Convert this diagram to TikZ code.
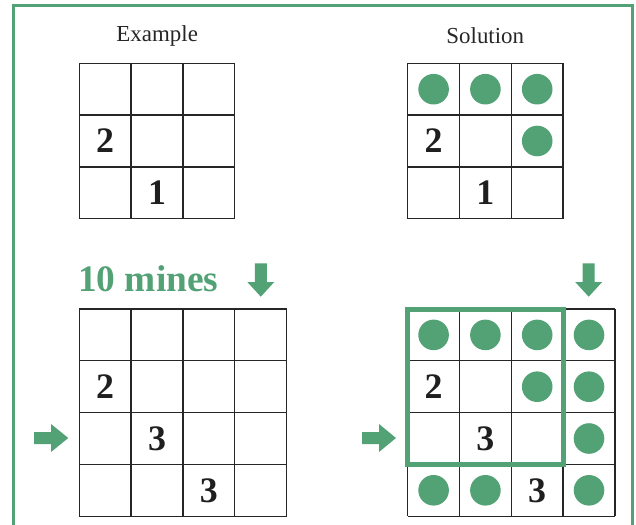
\documentclass[tikz,border=0pt]{standalone}
\usepackage{fontspec}
\setmainfont{Liberation Serif}
\definecolor{mgreen}{RGB}{83,162,117}
\tikzset{
  gridline/.style={draw=black!85,line width=1.3bp},
  num/.style={font=\fontsize{36}{36}\selectfont\bfseries,text=black!88,inner sep=0pt},
  mine/.style={circle,fill=mgreen,minimum size=30.6bp,inner sep=0pt},
  lbl/.style={font=\fontsize{23}{23}\selectfont,text=black!85,anchor=base,inner sep=0pt},
  arrowshape/.style={fill=mgreen},
  cellunits/.style={x=51.8bp,y=-51.8bp}
}
\begin{document}
\begin{tikzpicture}[x=1bp,y=-1bp]
\useasboundingbox (0,0) rectangle (636,525);
% frame
\draw[mgreen,line width=3bp] (13.5,540) -- (13.5,5.5) -- (632.5,5.5) -- (632.5,540);
% labels
\node[lbl] (lex) at (157.2,42) {Example};
\node[lbl] (lsol) at (485.3,44) {Solution};
\node[font=\fontsize{37.5}{37.5}\selectfont\bfseries,text=mgreen,anchor=base west,inner sep=0pt] (mines) at (78,291.7) {10 mines};
% Example grid
\begin{scope}[shift={(79.3,63.3)},cellunits]
  \foreach \i in {0,...,3} {
    \draw[gridline] (\i,0) -- (\i,3);
    \draw[gridline] (0,\i) -- (3,\i);
  }
  \node[num] (ea) at (0.5,1.5) {2};
  \node[num] (eb) at (1.5,2.5) {1};
\end{scope}
% Solution grid
\begin{scope}[shift={(407.7,63.3)},cellunits]
  \foreach \i in {0,...,3} {
    \draw[gridline] (\i,0) -- (\i,3);
    \draw[gridline] (0,\i) -- (3,\i);
  }
  \node[num] (sa) at (0.5,1.5) {2};
  \node[num] (sb) at (1.5,2.5) {1};
  \node[mine] (sm1) at (0.5,0.5) {};
  \node[mine] (sm2) at (1.5,0.5) {};
  \node[mine] (sm3) at (2.5,0.5) {};
  \node[mine] (sm4) at (2.5,1.5) {};
\end{scope}
% Puzzle grid
\begin{scope}[shift={(79.3,309)},cellunits]
  \foreach \i in {0,...,4} {
    \draw[gridline] (\i,0) -- (\i,4);
    \draw[gridline] (0,\i) -- (4,\i);
  }
  \node[num] (pa) at (0.5,1.5) {2};
  \node[num] (pb) at (1.5,2.5) {3};
  \node[num] (pc) at (2.5,3.5) {3};
\end{scope}
% Puzzle solution grid
\begin{scope}[shift={(407.7,309)},cellunits]
  \foreach \i in {0,...,4} {
    \draw[gridline] (\i,0) -- (\i,4);
    \draw[gridline] (0,\i) -- (4,\i);
  }
  \draw[mgreen,line width=5bp] (0,0) rectangle (3,3);
  \node[num] (qa) at (0.5,1.5) {2};
  \node[num] (qb) at (1.5,2.5) {3};
  \node[num] (qc) at (2.5,3.5) {3};
  \node[mine] (qm1) at (0.5,0.5) {};
  \node[mine] (qm2) at (1.5,0.5) {};
  \node[mine] (qm3) at (2.5,0.5) {};
  \node[mine] (qm4) at (3.5,0.5) {};
  \node[mine] (qm5) at (2.5,1.5) {};
  \node[mine] (qm6) at (3.5,1.5) {};
  \node[mine] (qm7) at (3.5,2.5) {};
  \node[mine] (qm8) at (0.5,3.5) {};
  \node[mine] (qm9) at (1.5,3.5) {};
  \node[mine] (qm10) at (3.5,3.5) {};
\end{scope}
% arrows
\fill[arrowshape] (254.8,263.3) -- (266.8,263.3) -- (266.8,282) -- (274.3,282) -- (260.8,296.7) -- (247.3,282) -- (254.8,282) -- cycle;
\fill[arrowshape] (582.7,263.3) -- (594.7,263.3) -- (594.7,282) -- (602.2,282) -- (588.7,296.7) -- (575.2,282) -- (582.7,282) -- cycle;
\fill[arrowshape] (34,432) -- (51,432) -- (51,424) -- (68.3,438) -- (51,452) -- (51,444) -- (34,444) -- cycle;
\fill[arrowshape] (362,432) -- (379,432) -- (379,424) -- (396,438) -- (379,452) -- (379,444) -- (362,444) -- cycle;
\end{tikzpicture}
\end{document}
